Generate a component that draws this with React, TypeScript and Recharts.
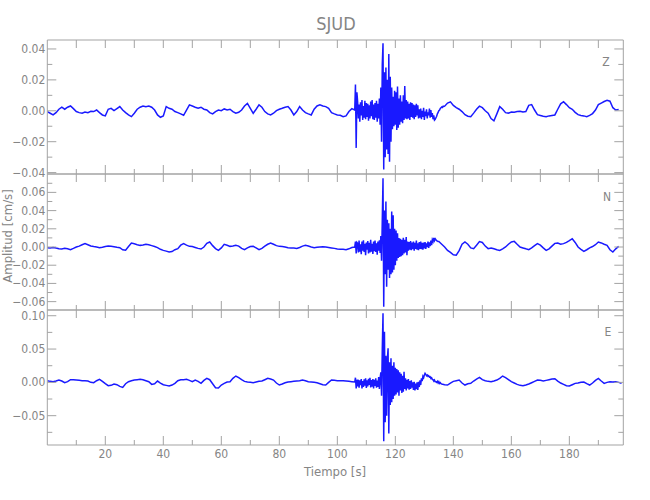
import React from 'react';
import { LineChart, Line, XAxis, YAxis } from 'recharts';

// ---------- data (amplitudes in units of 1e-4 cm/s) ----------
const STATION = 'SJUD';
const COMPONENTS = ['Z', 'N', 'E'];

const PRE_START = 0; // s, 1 s sampling
const PRE_STEP = 1;
const BURST_START = 106.25; // s, 0.25 s sampling
const BURST_STEP = 0.25;
const POST_STEP = 1;

const Z_PRE = [
  -5, -16, -27, -12, 10, 23, 10, 23, 31, 14,
  -5, -12, -16, -8, -12, -3, -5, 5, -12, -27,
  -33, 10, 16, 1, 14, 27, 5, -12, -27, -38,
  -16, 10, 23, 31, 27, 31, 23, 5, -27, -42,
  -33, 27, 16, 10, -5, -12, -20, -29, 5, 38,
  31, 23, 16, 23, 10, 5, -12, -20, -5, 5,
  1, 12, 5, 10, -5, -16, -10, 5, 31, 48,
  16, -16, 10, 38, 23, -5, -20, -27, -16, 1,
  10, 16, 23, 27, 5, -27, -5, 27, 5, -12,
  -20, -27, 10, 31, 38, 31, 27, 16, -12, -20,
  -27, -29, -38, -33, -5, 14, 5,
];
const Z_BURST = [
  170, -240, 120,
  60, -50, 40, -70,
  55, -30, 70, -60,
  30, -45, 65, -55,
  50, -40, 45, -65,
  35, -50, 60, -35,
  70, -55, 40, -60,
  50, -45, 65, -70,
  45, -50, 80, -90,
  150, -200, 300, 437,
  -380, 250, -300, 280,
  -250, 200, -280, 368,
  -330, 220, -200, 150,
  -120, 90, -100, 130,
  -90, 120, -124, 157,
  -110, 80, -90, 100,
  -70, 60, -80, 100,
  -60, 160, -50, 70,
  -55, 60, -50, 45,
  -60, 55, -40, 50,
  -45, 40, -55, 35,
  -40, 45, -30, 35,
  -50, 10, -45, 15,
  -55, 0, -40, 20,
  -60, -5, -35, 10,
  -50, -10, -30, 15,
  -45, 5, -40, -15,
  -55, -30, -60, -55,
  -45, -35, -20, -10,
  0, 5, 15, 20,
  25, 22, 30, 28,
];
const Z_POST = [
  30, 50, 58, 35, 20, 10, -5, -25, -35, -38,
  -15, 10, 30, 20, 0, -16, -50, -65, -20, 27,
  10, -12, -15, -8, -10, -5, -3, -8, -5, 35,
  40, 5, -25, -30, -35, -38, -33, -30, -27, 10,
  45, 59, 40, 20, 10, -10, -25, -30, -33, -38,
  -30, -18, 5, 40, 50, 60, 68, 62, 20, 5,
  8,
];

const N_PRE = [
  -7, -10, -5, -12, -18, -22, -15, -20, -29, -15,
  0, 10, 25, 37, 25, 12, 5, 0, -7, -3,
  5, 10, 7, 2, -3, -7, -30, -35, 5, 44,
  35, 25, 18, 22, 29, 25, 15, 5, -7, -25,
  -37, -45, -55, -50, -30, -18, 20, 37, 20, 7,
  5, -5, -15, -22, 0, 40, 55, 15, -18, -37,
  -10, 29, 20, 7, 10, 18, 10, -15, -29, -10,
  5, 7, -10, -29, -15, 10, 30, 44, 30, 15,
  7, 5, 0, -7, -10, -12, -15, -5, 10, 18,
  10, 0, -7, -3, 0, 3, 0, -5, -10, -15,
  -22, -25, -25, -29, -20, -5, 0,
];
const N_BURST = [
  60, -70, 50,
  40, -60, 70, -50,
  30, -80, 60, -40,
  75, -55, 35, -90,
  50, -30, 65, -70,
  45, -60, 80, -50,
  35, -75, 60, -45,
  70, -55, 40, -85,
  60, -40, 75, -65,
  120, -150, 300, 755,
  -656, 400, -300, 500,
  -436, 300, -250, 260,
  -340, 200, -300, 390,
  -280, 350, -250, 200,
  -200, 180, -150, 150,
  -120, 100, -110, 90,
  -100, 80, -90, 100,
  -70, 80, -60, 110,
  -90, 60, -40, 55,
  -30, 65, -35, 50,
  -25, 60, -40, 45,
  -20, 70, -30, 40,
  -35, 55, -20, 60,
  -25, 45, -30, 50,
  -15, 55, -20, 40,
  0, 60, -10, 50,
  10, 70, 20, 80,
  60, 100, 70, 91,
  80, 70, 65, 60,
];
const N_POST = [
  60, 30, 0, -37, -60, -85, -90, -40, 30, 55,
  30, -10, -18, 20, 60, 50, 10, -18, -10, -20,
  -30, -37, -20, 0, 30, 55, 62, 30, 0, -10,
  -20, -29, -10, 15, 37, 20, -10, -37, -20, 10,
  40, 44, 30, 37, 50, 70, 91, 50, 0, -25,
  -48, -30, -10, 5, 25, 55, 45, 30, 18, -30,
  -55, -20, 7,
];

const E_PRE = [
  25, 15, 10, 20, 35, 20, -5, 10, 40, 40,
  35, 30, 25, 25, 20, 0, -5, 25, 45, 15,
  -20, -50, -45, -25, -35, -60, -75, -20, 10, 25,
  35, 40, 45, 40, 25, 10, -30, -20, 20, -10,
  -35, -45, -55, -40, -15, 25, 40, 40, 45, 30,
  10, 35, 15, -15, 30, 60, 40, -20, -80, -85,
  -40, -15, 5, 10, 60, 95, 70, 40, 15, 5,
  0, -5, 5, 15, 20, 40, 60, 50, 35, -10,
  -40, -25, -5, 5, 10, 15, 20, 25, 35, 25,
  10, 5, 0, -5, -20, -35, -40, 0, 35, 30,
  25, 25, 25, 20, 15, 10, 5,
];
const E_BURST = [
  70, -90, 40,
  -60, 40, -80, 30,
  -40, 50, -90, 20,
  -70, 45, -50, 60,
  -85, 30, -60, 55,
  -40, 70, -75, 35,
  -65, 50, -90, 40,
  -55, 60, -80, 25,
  -70, 80, -100, 60,
  150, -200, 500, 1036,
  -882, 760, -600, 400,
  -500, 350, 510, -766,
  300, -340, 360, -300,
  250, -250, 300, -200,
  220, -180, 200, -150,
  180, -200, 150, -120,
  130, -160, 100, -140,
  160, -100, 60, -120,
  40, -90, 50, -110,
  20, -100, 30, -80,
  0, -115, 10, -120,
  -20, -100, 0, -115,
  10, -70, 30, -40,
  60, 20, 90, 70,
  110, 135, 120, 100,
  110, 90, 100, 80,
  85, 60, 70, 45,
  40, 20, 35, 10,
  10, 0, 15, -10,
  10, -15, -5, -20,
];
const E_POST = [
  -25, -35, -40, -10, 15, 25, 35, -10, -40, -20,
  -15, 20, 50, 75, 40, 25, 15, 10, 20, 35,
  60, 95, 70, 40, 10, -10, -30, -45, -50, -40,
  -25, -5, 15, 35, 30, 20, 30, 40, 50, 55,
  20, -10, -30, -50, -55, -35, -15, -10, 0, 5,
  -20, -40, -10, 30, 60, 20, -15, 0, 10, 5,
  10, 0, -15,
];

// axis domains and ticks
const X_DOMAIN = [0, 198.6];
const X_MAJOR = [20, 40, 60, 80, 100, 120, 140, 160, 180];
const X_MAJOR_LABELS = ['20', '40', '60', '80', '100', '120', '140', '160', '180'];
const X_MINOR = [10, 30, 50, 70, 90, 110, 130, 150, 170, 190];

const Z_DOMAIN = [-0.0409, 0.0458];
const Z_MAJOR = [-0.04, -0.02, 0, 0.02, 0.04];
const Z_LABELS = ['\u22120.04', '\u22120.02', '0.00', '0.02', '0.04'];
const Z_MINOR = [-0.03, -0.01, 0.01, 0.03];

const N_DOMAIN = [-0.0692, 0.0802];
const N_MAJOR = [-0.06, -0.04, -0.02, 0, 0.02, 0.04, 0.06];
const N_LABELS = ['\u22120.06', '\u22120.04', '\u22120.02', '0.00', '0.02', '0.04', '0.06'];
const N_MINOR = [-0.05, -0.03, -0.01, 0.01, 0.03, 0.05, 0.07];

const E_DOMAIN = [-0.094, 0.1086];
const E_MAJOR = [-0.05, 0, 0.05, 0.1];
const E_LABELS = ['\u22120.05', '0.00', '0.05', '0.10'];
const E_MINOR = [-0.075, -0.025, 0.025, 0.075];

// ---------- helpers ----------
type Pt = { t: number; v: number };
function buildTrace(pre: number[], burst: number[], post: number[]): Pt[] {
  const out: Pt[] = [];
  pre.forEach((v, i) => out.push({ t: PRE_START + i * PRE_STEP, v: v / 10000 }));
  burst.forEach((v, i) => out.push({ t: BURST_START + i * BURST_STEP, v: v / 10000 }));
  const lastBurst = BURST_START + (burst.length - 1) * BURST_STEP;
  const postStart = Math.floor(lastBurst) + 1;
  post.forEach((v, i) => out.push({ t: postStart + i * POST_STEP, v: v / 10000 }));
  return out;
}

const AXIS_COLOR = '#a3a3a3';
const TEXT_COLOR = '#858585';
const FONT = '"Liberation Sans Narrow", "DejaVu Sans Condensed", "Liberation Sans", Arial, sans-serif';
const LINE_COLOR = '#0000ff';

const W = 650;
const H = 500;
const PLOT_LEFT = 47.3;
const PLOT_RIGHT = 623.3;

const near = (a: number, b: number) => Math.abs(a - b) < 1e-9;

function makeYTick(side: 'left' | 'right', major: number[], labels: string[]) {
  return (props: any) => {
    const { x, y, payload } = props;
    const idx = major.findIndex((m) => near(m, payload.value));
    const isMajor = idx >= 0;
    const len = isMajor ? 9 : 5;
    const dir = side === 'left' ? 1 : -1;
    return (
      <g>
        <line x1={x} y1={y} x2={x + dir * len} y2={y} stroke={AXIS_COLOR} strokeWidth={1} />
        {side === 'left' && isMajor ? (
          <text x={x - 2} y={y} dy={4} textAnchor="end" fill={TEXT_COLOR} fontSize={12} fontFamily={FONT}>
            {labels[idx]}
          </text>
        ) : null}
      </g>
    );
  };
}

function makeXTick(side: 'top' | 'bottom', showLabels: boolean) {
  return (props: any) => {
    const { x, y, payload } = props;
    const idx = X_MAJOR.findIndex((m) => near(m, payload.value));
    const isMajor = idx >= 0;
    if (side === 'top') {
      return (
        <g>
          <line x1={x} y1={y} x2={x} y2={y + 8} stroke={AXIS_COLOR} strokeWidth={1} />
        </g>
      );
    }
    const len = isMajor ? 9 : 5;
    return (
      <g>
        <line x1={x} y1={y} x2={x} y2={y - len} stroke={AXIS_COLOR} strokeWidth={1} />
        {showLabels && isMajor ? (
          <text x={x} y={y + 13} textAnchor="middle" fill={TEXT_COLOR} fontSize={12} fontFamily={FONT}>
            {X_MAJOR_LABELS[idx]}
          </text>
        ) : null}
      </g>
    );
  };
}

type PanelProps = {
  data: Pt[];
  top: number;
  bottom: number;
  domain: number[];
  major: number[];
  minor: number[];
  labels: string[];
  showX: boolean;
};

function Panel({ data, top, bottom, domain, major, minor, labels, showX }: PanelProps) {
  const xTicks = [...X_MINOR, ...X_MAJOR].sort((a, b) => a - b);
  const yTicks = [...minor, ...major].sort((a, b) => a - b);
  return (
    <div style={{ position: 'absolute', left: 0, top: 0, width: W, height: H }}>
      <LineChart width={W} height={H} data={data} margin={{ top: 0, right: 0, bottom: 0, left: 0 }}>
        <XAxis
          xAxisId="b"
          dataKey="t"
          type="number"
          orientation="bottom"
          domain={X_DOMAIN}
          allowDataOverflow
          ticks={xTicks}
          interval={0}
          height={H - bottom}
          tickSize={0}
          tickMargin={0}
          tickLine={false}
          axisLine={{ stroke: AXIS_COLOR }}
          tick={makeXTick('bottom', showX)}
        />
        <XAxis
          xAxisId="t"
          dataKey="t"
          type="number"
          orientation="top"
          domain={X_DOMAIN}
          allowDataOverflow
          ticks={xTicks}
          interval={0}
          height={top}
          tickSize={0}
          tickMargin={0}
          tickLine={false}
          axisLine={{ stroke: AXIS_COLOR }}
          tick={makeXTick('top', false)}
        />
        <YAxis
          yAxisId="l"
          type="number"
          orientation="left"
          domain={domain}
          allowDataOverflow
          ticks={yTicks}
          interval={0}
          width={PLOT_LEFT}
          tickSize={0}
          tickMargin={0}
          tickLine={false}
          axisLine={{ stroke: AXIS_COLOR }}
          tick={makeYTick('left', major, labels)}
        />
        <YAxis
          yAxisId="r"
          type="number"
          orientation="right"
          domain={domain}
          allowDataOverflow
          ticks={yTicks}
          interval={0}
          width={W - PLOT_RIGHT}
          tickSize={0}
          tickMargin={0}
          tickLine={false}
          axisLine={{ stroke: AXIS_COLOR }}
          tick={makeYTick('right', major, labels)}
        />
        <Line
          xAxisId="b"
          yAxisId="l"
          dataKey="v"
          type="linear"
          stroke={LINE_COLOR}
          strokeWidth={1.5}
          strokeOpacity={0.9}
          dot={false}
          activeDot={false}
          isAnimationActive={false}
        />
      </LineChart>
    </div>
  );
}

const zData = buildTrace(Z_PRE, Z_BURST, Z_POST);
const nData = buildTrace(N_PRE, N_BURST, N_POST);
const eData = buildTrace(E_PRE, E_BURST, E_POST);

export default function App() {
  return (
    <div style={{ position: 'absolute', left: 0, top: 0, width: W, height: H, background: '#fff', overflow: 'hidden' }}>
      <Panel data={zData} top={40} bottom={174} domain={Z_DOMAIN} major={Z_MAJOR} minor={Z_MINOR} labels={Z_LABELS} showX={false} />
      <Panel data={nData} top={174} bottom={310} domain={N_DOMAIN} major={N_MAJOR} minor={N_MINOR} labels={N_LABELS} showX={false} />
      <Panel data={eData} top={310} bottom={445} domain={E_DOMAIN} major={E_MAJOR} minor={E_MINOR} labels={E_LABELS} showX={true} />
      <svg width={W} height={H} style={{ position: 'absolute', left: 0, top: 0, pointerEvents: 'none' }}>
        <text x={336} y={30} textAnchor="middle" fill={TEXT_COLOR} fontSize={18} fontFamily={FONT}>
          {STATION}
        </text>
        <text x={335} y={476} textAnchor="middle" fill={TEXT_COLOR} fontSize={13} fontFamily={FONT}>
          Tiempo [s]
        </text>
        <text
          x={12}
          y={236}
          textAnchor="middle"
          fill={TEXT_COLOR}
          fontSize={13}
          fontFamily={FONT}
          transform="rotate(-90 12 236)"
        >
          Amplitud [cm/s]
        </text>
        <text x={606} y={66} textAnchor="middle" fill={TEXT_COLOR} fontSize={12} fontFamily={FONT}>
          {COMPONENTS[0]}
        </text>
        <text x={607} y={201} textAnchor="middle" fill={TEXT_COLOR} fontSize={12} fontFamily={FONT}>
          {COMPONENTS[1]}
        </text>
        <text x={608} y={336} textAnchor="middle" fill={TEXT_COLOR} fontSize={12} fontFamily={FONT}>
          {COMPONENTS[2]}
        </text>
      </svg>
    </div>
  );
}
